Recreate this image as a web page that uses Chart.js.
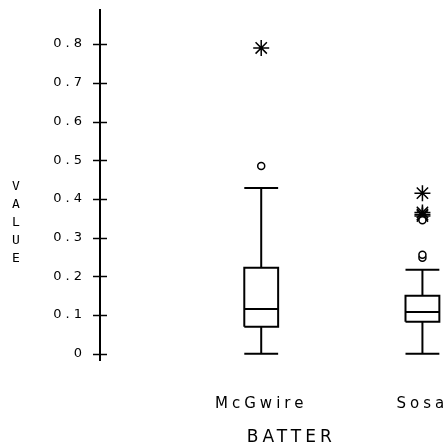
<!DOCTYPE html>
<html>
<head>
<meta charset="utf-8">
<script src="https://cdn.jsdelivr.net/npm/chart.js@4/dist/chart.umd.min.js"></script>
<style>
    html, body { margin: 0; padding: 0; background: #fff; overflow: hidden; }
    #wrap { width: 445px; height: 447px; overflow: hidden; }
</style>
</head>
<body>
<div id="wrap"><canvas id="boxChart" width="484" height="447"></canvas></div>
<script>
(function () {
    "use strict";

    // box plot summaries
    const batters = ["McGwire", "Sosa"];
    const lowerWhisker = [0, 0];
    const lowerQuartile = [0.07, 0.083];
    const medians = [0.116, 0.108];
    const upperQuartile = [0.222, 0.15];
    const upperWhisker = [0.428, 0.217];
    const mildOutliers = [[0.485], [0.248, 0.256, 0.345]];
    const farOutliers = [[0.79], [0.415, 0.356, 0.36, 0.365]];
    const yTicks = [0, 0.1, 0.2, 0.3, 0.4, 0.5, 0.6, 0.7, 0.8];

    const ink = "#000";
    const boxHalf = 0.105;
    const monoFont = "'DejaVu Sans Mono', monospace";
    const sansFont = "'DejaVu Sans', sans-serif";

    function boxSegments() {
        const pts = [];
        const gap = (x) => pts.push({ x: x, y: null });
        batters.forEach((name, i) => {
            const x = i + 1;
            const l = x - boxHalf, r = x + boxHalf;
            // lower whisker + cap
            pts.push({ x: l, y: lowerWhisker[i] }, { x: r, y: lowerWhisker[i] }); gap(x);
            pts.push({ x: x, y: lowerWhisker[i] }, { x: x, y: lowerQuartile[i] }); gap(x);
            // box
            pts.push({ x: l, y: lowerQuartile[i] }, { x: r, y: lowerQuartile[i] },
                { x: r, y: upperQuartile[i] }, { x: l, y: upperQuartile[i] },
                { x: l, y: lowerQuartile[i] }); gap(x);
            pts.push({ x: l, y: medians[i] }, { x: r, y: medians[i] }); gap(x);
            // upper whisker + cap
            pts.push({ x: x, y: upperQuartile[i] }, { x: x, y: upperWhisker[i] }); gap(x);
            pts.push({ x: l, y: upperWhisker[i] }, { x: r, y: upperWhisker[i] }); gap(x);
        });
        return pts;
    }

    function outlierPoints(list) {
        const pts = [];
        list.forEach((vals, i) => vals.forEach((v) => pts.push({ x: i + 1, y: v })));
        return pts;
    }

    const spacedText = {
        id: "spacedText",
        beforeUpdate(chart) { chart.ctx.letterSpacing = "4px"; },
        beforeDraw(chart) { chart.ctx.letterSpacing = "4px"; }
    };

    // tick marks that cross the axis, plus the two axis titles
    const axisDecor = {
        id: "axisDecor",
        afterDraw(chart) {
            const { ctx, chartArea } = chart;
            const yScale = chart.scales.y;
            ctx.save();
            ctx.strokeStyle = ink;
            ctx.lineWidth = 1.5;
            yScale.ticks.forEach((t) => {
                const py = Math.round(yScale.getPixelForValue(t.value)) + 0.5;
                ctx.beginPath();
                ctx.moveTo(chartArea.left - 7, py);
                ctx.lineTo(chartArea.left + 7, py);
                ctx.stroke();
            });
            ctx.fillStyle = ink;
            ctx.textAlign = "center";
            ctx.textBaseline = "middle";
            ctx.font = "13px " + monoFont;
            ctx.letterSpacing = "0px";
            "VALUE".split("").forEach((ch, i) => ctx.fillText(ch, 16, 187 + i * 18));
            ctx.font = "17px " + sansFont;
            ctx.letterSpacing = "4px";
            ctx.fillText("BATTER", (chartArea.left + chartArea.right) / 2 + 4, 438);
            ctx.restore();
        }
    };

    new Chart(document.getElementById("boxChart"), {
        type: "scatter",
        data: {
            datasets: [
                {
                    data: boxSegments(),
                    showLine: true,
                    spanGaps: false,
                    borderColor: ink,
                    borderWidth: 2,
                    pointRadius: 0,
                    tension: 0
                },
                {
                    data: outlierPoints(mildOutliers),
                    pointStyle: "circle",
                    pointRadius: 3.5,
                    borderColor: ink,
                    backgroundColor: "#fff",
                    borderWidth: 1.5
                },
                {
                    data: outlierPoints(farOutliers),
                    pointStyle: "star",
                    pointRadius: 8,
                    borderColor: ink,
                    borderWidth: 1.5
                }
            ]
        },
        plugins: [spacedText, axisDecor],
        options: {
            responsive: false,
            animation: false,
            layout: { padding: { left: 0, top: 10, right: 0, bottom: 0 } },
            plugins: { legend: { display: false }, tooltip: { enabled: false } },
            scales: {
                x: {
                    type: "linear",
                    min: 0,
                    max: 2.323,
                    afterBuildTicks: (scale) => { scale.ticks = batters.map((b, i) => ({ value: i + 1 })); },
                    afterFit: (scale) => {
                        scale.height = 87;
                        scale.paddingLeft = 0;
                        scale.paddingRight = 0;
                    },
                    grid: { display: false, drawTicks: false },
                    border: { display: false },
                    ticks: {
                        color: ink,
                        maxRotation: 0,
                        autoSkip: false,
                        padding: 35,
                        font: { family: sansFont, size: 15 },
                        callback: (v) => batters[v - 1] || ""
                    }
                },
                y: {
                    type: "linear",
                    min: -0.016,
                    max: 0.888,
                    afterBuildTicks: (scale) => { scale.ticks = yTicks.map((v) => ({ value: v })); },
                    afterFit: (scale) => {
                        scale.width = 100;
                        scale.paddingTop = 0;
                        scale.paddingBottom = 0;
                    },
                    grid: { display: false, drawTicks: false },
                    border: { display: true, color: ink, width: 2 },
                    ticks: {
                        color: ink,
                        padding: 14,
                        font: { family: sansFont, size: 13 },
                        callback: (v) => (v === 0 ? "0" : String(v))
                    }
                }
            }
        }
    });
}());
</script>
</body>
</html>
